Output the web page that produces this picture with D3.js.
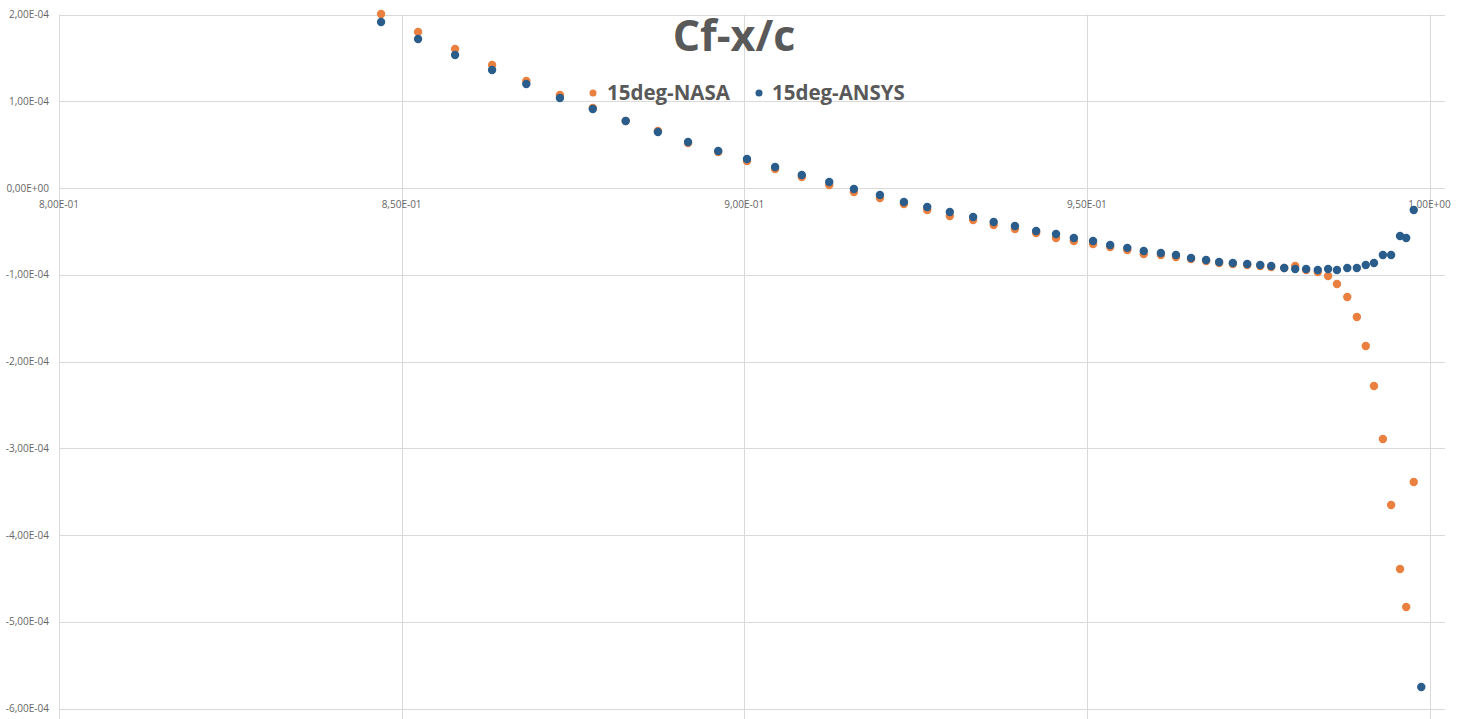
<!DOCTYPE html>
<html>
<head>
<meta charset="utf-8">
<script src="https://cdn.jsdelivr.net/npm/d3@7"></script>
<style>
  body { margin: 0; background: #fff; }
  svg { display: block; font-family: "Open Sans", sans-serif; }
</style>
</head>
<body>
<div id="chart"></div>
<script>
// Cf vs x/c, 15 deg case: NASA reference vs ANSYS result (tail of the chord).

const xNasa = [0.8470, 0.8524, 0.8578, 0.8632, 0.8682, 0.8731, 0.8779, 0.8827, 0.8874, 0.8918,
  0.8962, 0.9004, 0.9045, 0.9084, 0.9124, 0.9160, 0.9198, 0.9233, 0.9267, 0.9300,
  0.9334, 0.9364, 0.9395, 0.9426, 0.9455, 0.9481, 0.9509, 0.9534, 0.9559, 0.9583,
  0.9608, 0.9630, 0.9652, 0.9674, 0.9693, 0.9713, 0.9734, 0.9753, 0.9769, 0.9788,
  0.9804, 0.9820, 0.9837, 0.9852, 0.9865, 0.9880, 0.9894, 0.9907, 0.9919, 0.9932,
  0.9944, 0.9957, 0.9966, 0.9977];
const cfNasa = [2.006e-4, 1.798e-4, 1.602e-4, 1.418e-4, 1.233e-4, 1.072e-4, 0.922e-4, 0.772e-4, 0.657e-4, 0.519e-4,
  0.415e-4, 0.311e-4, 0.219e-4, 0.127e-4, 0.035e-4, -0.046e-4, -0.115e-4, -0.184e-4, -0.254e-4, -0.323e-4,
  -0.369e-4, -0.427e-4, -0.473e-4, -0.519e-4, -0.576e-4, -0.611e-4, -0.646e-4, -0.680e-4, -0.715e-4, -0.761e-4,
  -0.772e-4, -0.795e-4, -0.818e-4, -0.841e-4, -0.865e-4, -0.876e-4, -0.888e-4, -0.899e-4, -0.911e-4, -0.922e-4,
  -0.899e-4, -0.945e-4, -0.968e-4, -1.014e-4, -1.107e-4, -1.256e-4, -1.487e-4, -1.821e-4, -2.282e-4, -2.893e-4,
  -3.654e-4, -4.392e-4, -4.830e-4, -3.389e-4];

const xAnsys = [0.8470, 0.8524, 0.8578, 0.8632, 0.8682, 0.8731, 0.8779, 0.8827, 0.8874, 0.8918,
  0.8962, 0.9004, 0.9045, 0.9084, 0.9124, 0.9160, 0.9198, 0.9233, 0.9267, 0.9300,
  0.9334, 0.9364, 0.9395, 0.9426, 0.9455, 0.9481, 0.9509, 0.9534, 0.9559, 0.9583,
  0.9608, 0.9630, 0.9652, 0.9674, 0.9693, 0.9713, 0.9734, 0.9753, 0.9769, 0.9788,
  0.9804, 0.9820, 0.9837, 0.9852, 0.9865, 0.9880, 0.9894, 0.9907, 0.9919, 0.9932,
  0.9944, 0.9957, 0.9966, 0.9977, 0.9988];
const cfAnsys = [1.914e-4, 1.718e-4, 1.533e-4, 1.360e-4, 1.199e-4, 1.037e-4, 0.911e-4, 0.772e-4, 0.646e-4, 0.530e-4,
  0.427e-4, 0.334e-4, 0.242e-4, 0.150e-4, 0.069e-4, -0.012e-4, -0.081e-4, -0.161e-4, -0.219e-4, -0.277e-4,
  -0.334e-4, -0.392e-4, -0.438e-4, -0.496e-4, -0.530e-4, -0.576e-4, -0.611e-4, -0.657e-4, -0.690e-4, -0.726e-4,
  -0.749e-4, -0.772e-4, -0.807e-4, -0.830e-4, -0.853e-4, -0.865e-4, -0.876e-4, -0.888e-4, -0.899e-4, -0.922e-4,
  -0.934e-4, -0.934e-4, -0.945e-4, -0.934e-4, -0.945e-4, -0.922e-4, -0.922e-4, -0.888e-4, -0.865e-4, -0.772e-4,
  -0.772e-4, -0.553e-4, -0.576e-4, -0.254e-4, -5.752e-4];

const xTicks = [0.80, 0.85, 0.90, 0.95, 1.00];
const xTickLabels = ["8,00E-01", "8,50E-01", "9,00E-01", "9,50E-01", "1,00E+00"];
const yTicks = [2e-4, 1e-4, 0, -1e-4, -2e-4, -3e-4, -4e-4, -5e-4, -6e-4];
const yTickLabels = ["2,00E-04", "1,00E-04", "0,00E+00", "-1,00E-04", "-2,00E-04", "-3,00E-04", "-4,00E-04", "-5,00E-04", "-6,00E-04"];

const series = [
  { name: "15deg-NASA", color: "#E9803F", xs: xNasa, ys: cfNasa },
  { name: "15deg-ANSYS", color: "#2A5D8B", xs: xAnsys, ys: cfAnsys }
];

const W = 1466, H = 719;
const plot = { left: 59, right: 1445, top: 14.5, bottom: 719 };
const grid = "#d9d9d9", ink = "#595959";

const x = d3.scaleLinear().domain([0.8, 1.0]).range([59, 1429.5]);
const y = d3.scaleLinear().domain([-6e-4, 2e-4]).range([708.5, 14.5]);

const svg = d3.select("#chart").append("svg").attr("width", W).attr("height", H);
svg.append("rect").attr("width", W).attr("height", H).attr("fill", "#fff");

// gridlines
svg.append("g").selectAll("line").data(yTicks).join("line")
  .attr("x1", plot.left).attr("x2", plot.right)
  .attr("y1", d => Math.round(y(d)) + 0.5).attr("y2", d => Math.round(y(d)) + 0.5)
  .attr("stroke", grid);
svg.append("g").selectAll("line").data(xTicks).join("line")
  .attr("x1", d => Math.round(x(d)) + 0.5).attr("x2", d => Math.round(x(d)) + 0.5)
  .attr("y1", plot.top).attr("y2", plot.bottom)
  .attr("stroke", grid);

// y labels
svg.append("g").selectAll("text").data(yTicks).join("text")
  .attr("x", 49).attr("y", d => y(d)).attr("dy", "0.35em")
  .attr("text-anchor", "end").attr("font-size", 10).attr("fill", "#666")
  .text((d, i) => yTickLabels[i]);

// x labels sit under the zero line
svg.append("g").selectAll("text").data(xTicks).join("text")
  .attr("x", d => x(d)).attr("y", y(0) + 20)
  .attr("text-anchor", "middle").attr("font-size", 10).attr("fill", "#666")
  .text((d, i) => xTickLabels[i]);

// points: NASA first, ANSYS on top
series.forEach(s => {
  svg.append("g").selectAll("circle").data(d3.zip(s.xs, s.ys)).join("circle")
    .attr("cx", d => x(d[0])).attr("cy", d => y(d[1])).attr("r", 4.2)
    .attr("fill", s.color);
});

// title
svg.append("text").attr("x", 734).attr("y", 51).attr("text-anchor", "middle")
  .attr("font-size", 43).attr("font-weight", 700).attr("fill", ink).text("Cf-x/c");

// legend
const legendPos = [{ dot: 593, text: 607 }, { dot: 759, text: 772 }];
const lg = svg.append("g").selectAll("g").data(series).join("g");
lg.append("circle").attr("cx", (d, i) => legendPos[i].dot).attr("cy", 93).attr("r", 3.5)
  .attr("fill", d => d.color);
lg.append("text").attr("x", (d, i) => legendPos[i].text).attr("y", 100)
  .attr("font-size", 20.5).attr("font-weight", 700).attr("fill", ink)
  .text(d => d.name);
</script>
</body>
</html>
